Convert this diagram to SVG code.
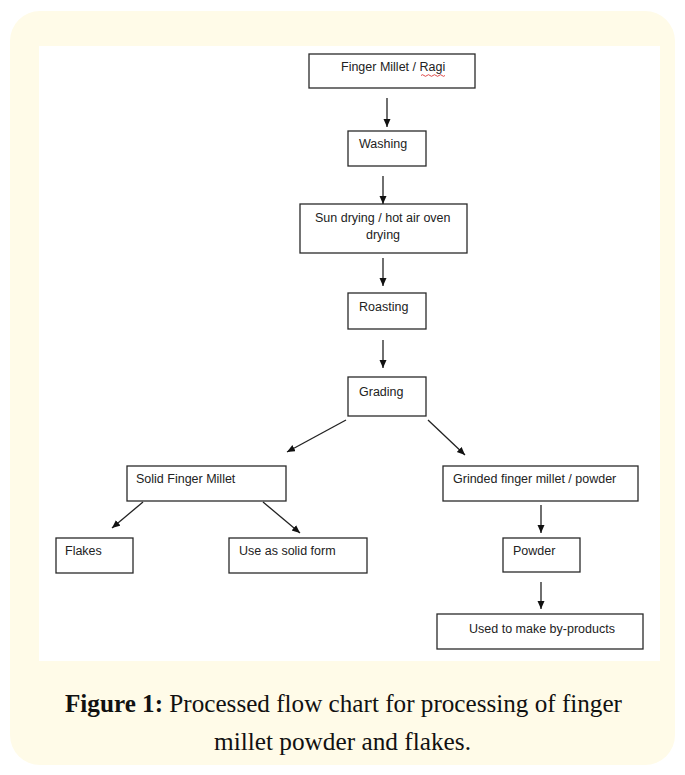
<svg xmlns="http://www.w3.org/2000/svg" width="685" height="775" viewBox="0 0 685 775">
<style>
.box{fill:#fff;stroke:#2a2a2a;stroke-width:1.3}
.lbl{font-family:"Liberation Sans",Arial,sans-serif;font-size:12.5px;fill:#222}
.conn line{stroke:#222;stroke-width:1.3}
.cap{font-family:"Liberation Serif","Times New Roman",serif;font-size:24.5px;fill:#111}
</style>
<defs>
<marker id="ah" markerUnits="userSpaceOnUse" markerWidth="9" markerHeight="8" refX="8" refY="3.5" orient="auto">
<path d="M0,0 L8,3.5 L0,7 z" fill="#111"/>
</marker>
</defs>
<rect x="10" y="11" width="665" height="754" rx="30" fill="#FFFBE8"/>
<rect x="39" y="46" width="621" height="615" fill="#fff"/>

<g id="n-ragi"><rect class="box" x="309" y="54" width="166" height="34"/><text class="lbl" x="341" y="71">Finger Millet / Ragi</text><path d="M421,75.5 q1.5,-1.6 3,0 t3,0 t3,0 t3,0 t3,0 t3,0 t3,0 t3,0" fill="none" stroke="#d42020" stroke-width="0.8"/></g>
<g id="n-washing"><rect class="box" x="348" y="131" width="78" height="35"/><text class="lbl" x="359" y="148">Washing</text></g>
<g id="n-drying"><rect class="box" x="300" y="204" width="167" height="49"/><text class="lbl" x="315" y="222">Sun drying / hot air oven</text><text class="lbl" x="366" y="239">drying</text></g>
<g id="n-roasting"><rect class="box" x="348" y="293" width="78" height="36"/><text class="lbl" x="359" y="311">Roasting</text></g>
<g id="n-grading"><rect class="box" x="348" y="377" width="78" height="39"/><text class="lbl" x="359" y="396">Grading</text></g>
<g id="n-solid"><rect class="box" x="127" y="466" width="159" height="35"/><text class="lbl" x="136" y="483">Solid Finger Millet</text></g>
<g id="n-grinded"><rect class="box" x="443" y="466" width="195" height="35"/><text class="lbl" x="453" y="483">Grinded finger millet / powder</text></g>
<g id="n-flakes"><rect class="box" x="56" y="538" width="77" height="35"/><text class="lbl" x="65" y="555">Flakes</text></g>
<g id="n-solidform"><rect class="box" x="229" y="538" width="138" height="35"/><text class="lbl" x="239" y="555">Use as solid form</text></g>
<g id="n-powder"><rect class="box" x="503" y="538" width="77" height="34"/><text class="lbl" x="513" y="555">Powder</text></g>
<g id="n-byproducts"><rect class="box" x="437" y="614" width="206" height="35"/><text class="lbl" x="469" y="633">Used to make by-products</text></g>

<g id="connectors" class="conn">
<line x1="387" y1="98" x2="387" y2="127" marker-end="url(#ah)"/>
<line x1="383" y1="176" x2="383" y2="204" marker-end="url(#ah)"/>
<line x1="383" y1="258" x2="383" y2="286" marker-end="url(#ah)"/>
<line x1="383" y1="340" x2="383" y2="368" marker-end="url(#ah)"/>
<line x1="346" y1="420" x2="287" y2="452" marker-end="url(#ah)"/>
<line x1="428" y1="420" x2="465" y2="455" marker-end="url(#ah)"/>
<line x1="143" y1="502" x2="112" y2="528" marker-end="url(#ah)"/>
<line x1="263" y1="502" x2="300" y2="533" marker-end="url(#ah)"/>
<line x1="541" y1="505" x2="541" y2="533" marker-end="url(#ah)"/>
<line x1="541" y1="582" x2="541" y2="609" marker-end="url(#ah)"/>
</g>

<text class="cap" x="65" y="712" textLength="557" lengthAdjust="spacingAndGlyphs"><tspan font-weight="bold">Figure 1:</tspan> Processed flow chart for processing of finger</text>
<text class="cap" x="214" y="750" textLength="257" lengthAdjust="spacingAndGlyphs">millet powder and flakes.</text>
</svg>
